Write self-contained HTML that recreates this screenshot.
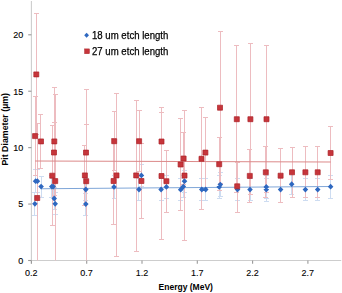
<!DOCTYPE html>
<html><head><meta charset="utf-8"><style>
html,body{margin:0;padding:0;background:#fff;}
body{width:342px;height:293px;overflow:hidden;position:relative;font-family:"Liberation Sans",sans-serif;}
svg{position:absolute;left:0;top:0;}
.t{position:absolute;white-space:nowrap;color:#000;line-height:1;}
.yl{font-size:9px;text-align:right;width:20px;left:3.2px;-webkit-text-stroke:0.12px #000;}
.xl{font-size:9px;width:30px;text-align:center;-webkit-text-stroke:0.1px #000;}
.lg{font-size:10.5px;transform:scaleX(0.915);transform-origin:0 0;-webkit-text-stroke:0.25px #000;}
.ttl{font-size:8.5px;font-weight:bold;}
</style></head><body>
<svg width="342" height="293" viewBox="0 0 342 293">
<defs><filter id="bl" x="0" y="0" width="1" height="1"><feGaussianBlur stdDeviation="0.35"/></filter></defs>
<g filter="url(#bl)">
<line x1="31.4" y1="1.0" x2="31.4" y2="263.8" stroke="#cdcdcd" stroke-width="1.1"/>
<line x1="28.2" y1="260.5" x2="341.2" y2="260.5" stroke="#cdcdcd" stroke-width="1.1"/>
<line x1="28.2" y1="204.07" x2="31.4" y2="204.07" stroke="#999999" stroke-width="1.1"/>
<line x1="28.2" y1="147.65" x2="31.4" y2="147.65" stroke="#999999" stroke-width="1.1"/>
<line x1="28.2" y1="91.22" x2="31.4" y2="91.22" stroke="#999999" stroke-width="1.1"/>
<line x1="28.2" y1="34.8" x2="31.4" y2="34.8" stroke="#999999" stroke-width="1.1"/>
<line x1="28.2" y1="260.5" x2="31.4" y2="260.5" stroke="#999999" stroke-width="1.1"/>
<line x1="31.4" y1="260.5" x2="31.4" y2="263.8" stroke="#999999" stroke-width="1.1"/>
<line x1="86.7" y1="260.5" x2="86.7" y2="263.8" stroke="#999999" stroke-width="1.1"/>
<line x1="142" y1="260.5" x2="142" y2="263.8" stroke="#999999" stroke-width="1.1"/>
<line x1="197.3" y1="260.5" x2="197.3" y2="263.8" stroke="#999999" stroke-width="1.1"/>
<line x1="252.6" y1="260.5" x2="252.6" y2="263.8" stroke="#999999" stroke-width="1.1"/>
<line x1="307.9" y1="260.5" x2="307.9" y2="263.8" stroke="#999999" stroke-width="1.1"/>
<path d="M35.5 169.5V192.5M33 169.5H38M33 192.5H38M37.5 169.5V192.5M35 169.5H40M35 192.5H40M34.5 192.5V215.5M32 192.5H37M32 215.5H37M41.5 176.5V197.5M39 176.5H44M39 197.5H44M51.5 175.5V197.5M49 175.5H54M49 197.5H54M53.5 175.5V197.5M51 175.5H56M51 197.5H56M54.5 187.5V209.5M52 187.5H57M52 209.5H57M55.5 192.5V214.5M53 192.5H58M53 214.5H58M85.5 178.5V200.5M83 178.5H88M83 200.5H88M85.5 193.5V215.5M83 193.5H88M83 215.5H88M114.5 175.5V198.5M112 175.5H117M112 198.5H117M141.5 164.5V186.5M139 164.5H144M139 186.5H144M138.5 178.5V200.5M136 178.5H141M136 200.5H141M161.5 178.5V200.5M159 178.5H164M159 200.5H164M166.5 175.5V198.5M164 175.5H169M164 198.5H169M184.5 170.5V192.5M182 170.5H187M182 192.5H187M180.5 178.5V200.5M178 178.5H183M178 200.5H183M183.5 175.5V197.5M181 175.5H186M181 197.5H186M201.5 178.5V200.5M199 178.5H204M199 200.5H204M205.5 178.5V200.5M203 178.5H208M203 200.5H208M220.5 172.5V196.5M218 172.5H223M218 196.5H223M219.5 175.5V198.5M217 175.5H222M217 198.5H222M237.5 178.5V200.5M235 178.5H240M235 200.5H240M250.5 178.5V200.5M248 178.5H253M248 200.5H253M266.5 175.5V198.5M264 175.5H269M264 198.5H269M266.5 178.5V201.5M264 178.5H269M264 201.5H269M280.5 176.5V202.5M278 176.5H283M278 202.5H283M291.5 173.5V194.5M289 173.5H294M289 194.5H294M305.5 178.5V200.5M303 178.5H308M303 200.5H308M317.5 178.5V200.5M315 178.5H320M315 200.5H320M330.5 175.5V198.5M328 175.5H333M328 198.5H333" stroke="#cddcf1" stroke-width="1" fill="none"/>
<path d="M36.5 13.5V135M34 13.5H39M34 134.5H39M35.5 96.5V175.6M33 96.5H38M33 175.5H38M37.5 123.5V260.5M35 123.5H40M40.5 114.5V168.5M38 114.5H43M38 168.5H43M54.5 87.5V195.1M52 87.5H57M52 195.5H57M54.5 122.5V182.8M52 122.5H57M52 182.5H57M52.5 125.5V225.6M50 125.5H55M50 225.5H55M55.5 94.5V260.5M53 94.5H58M86.5 124.5V180.6M84 124.5H89M84 180.5H89M84.5 145.5V205.3M82 145.5H87M82 205.5H87M86.5 89.5V260.5M84 89.5H89M114.5 111.5V170.7M112 111.5H117M112 170.5H117M116.5 93.5V257M114 93.5H119M114 256.5H119M113.5 138.5V224M111 138.5H116M111 224.5H116M139.5 110.5V171.6M137 110.5H142M137 171.5H142M136.5 100.5V251.8M134 100.5H139M134 251.5H139M141.5 143.5V218.7M139 143.5H144M139 218.5H144M161.5 107.5V175.3M159 107.5H164M159 175.5H164M161.5 112.5V239.7M159 112.5H164M159 239.5H164M166.5 150.5V212.2M164 150.5H169M164 212.5H169M183.5 132.5V184M181 132.5H186M181 184.5H186M180.5 118.5V210.5M178 118.5H183M178 210.5H183M184.5 110.5V240.4M182 110.5H187M182 240.5H187M201.5 107.5V209.9M199 107.5H204M199 209.5H204M205.5 117.5V187.7M203 117.5H208M203 187.5H208M220.5 31.5V183.7M218 31.5H223M218 183.5H223M219.5 137.5V190.9M217 137.5H222M217 190.5H222M236.5 45.5V192.9M234 45.5H239M234 192.5H239M237.5 162.5V212M235 162.5H240M235 212.5H240M250.5 43.5V194.7M248 43.5H253M248 194.5H253M249.5 149.5V202.6M247 149.5H252M247 202.5H252M266.5 45.5V192.9M264 45.5H269M264 192.5H269M265.5 146.5V197.7M263 146.5H268M263 197.5H268M280.5 148.5V202.9M278 148.5H283M278 202.5H283M292.5 147.5V197.5M290 147.5H295M290 197.5H295M305.5 146.5V197.7M303 146.5H308M303 197.5H308M317.5 146.5V197.7M315 146.5H320M315 197.5H320M330.5 126.5V179.8M328 126.5H333M328 179.5H333" stroke="#edbcc0" stroke-width="1" fill="none"/>
<line x1="35.1" y1="161.05" x2="330.8" y2="162.05" stroke="#dc8a8a" stroke-width="1.05"/>
<line x1="41" y1="188.85" x2="331" y2="186.45" stroke="#7fa6d8" stroke-width="1.05"/>
<path d="M35.6 178.3L38.4 181.2L35.6 184.1L32.8 181.2ZM37.4 178.3L40.2 181.2L37.4 184.1L34.6 181.2ZM34.9 200.9L37.7 203.8L34.9 206.7L32.1 203.8ZM41.1 183.7L43.9 186.6L41.1 189.5L38.3 186.6ZM51.8 183.7L54.6 186.6L51.8 189.5L49 186.6ZM53.2 183.7L56 186.6L53.2 189.5L50.4 186.6ZM54.2 195.6L57 198.5L54.2 201.4L51.4 198.5ZM55.2 200.9L58 203.8L55.2 206.7L52.4 203.8ZM85.8 186.6L88.6 189.5L85.8 192.4L83 189.5ZM85.8 201.2L88.6 204.1L85.8 207L83 204.1ZM114 184L116.8 186.9L114 189.8L111.2 186.9ZM141.4 172.5L144.2 175.4L141.4 178.3L138.6 175.4ZM139 186.6L141.8 189.5L139 192.4L136.2 189.5ZM161.1 186.6L163.9 189.5L161.1 192.4L158.3 189.5ZM166.4 184L169.2 186.9L166.4 189.8L163.6 186.9ZM184.5 178.3L187.3 181.2L184.5 184.1L181.7 181.2ZM180.7 186.8L183.5 189.7L180.7 192.6L177.9 189.7ZM183.3 183.7L186.1 186.6L183.3 189.5L180.5 186.6ZM201.8 186.6L204.6 189.5L201.8 192.4L199 189.5ZM205.7 186.6L208.5 189.5L205.7 192.4L202.9 189.5ZM220.3 181.7L223.1 184.6L220.3 187.5L217.5 184.6ZM219.2 184L222 186.9L219.2 189.8L216.4 186.9ZM237.5 186.7L240.3 189.6L237.5 192.5L234.7 189.6ZM250 186.7L252.8 189.6L250 192.5L247.2 189.6ZM266.3 184.1L269.1 187L266.3 189.9L263.5 187ZM266.3 186.7L269.1 189.6L266.3 192.5L263.5 189.6ZM280.6 186.7L283.4 189.6L280.6 192.5L277.8 189.6ZM291.7 181.3L294.5 184.2L291.7 187.1L288.9 184.2ZM305.4 186.7L308.2 189.6L305.4 192.5L302.6 189.6ZM317.7 186.7L320.5 189.6L317.7 192.5L314.9 189.6ZM330.6 183.8L333.4 186.7L330.6 189.6L327.8 186.7Z" fill="#2e67c0"/>
<path d="M33.8 71.9h5v5h-5ZM32.6 133.6h5v5h-5ZM34.7 195.5h5v5h-5ZM38.5 138.9h5v5h-5ZM51.8 138.9h5v5h-5ZM51.5 150h5v5h-5ZM49.7 173.2h5v5h-5ZM52.7 178.6h5v5h-5ZM83.5 150.1h5v5h-5ZM82.4 172.9h5v5h-5ZM83.7 178.7h5v5h-5ZM111.7 138.7h5v5h-5ZM114 172.9h5v5h-5ZM111.1 178.5h5v5h-5ZM136.6 138.7h5v5h-5ZM133.7 172.9h5v5h-5ZM138.9 178.5h5v5h-5ZM159 139h5v5h-5ZM159 173.5h5v5h-5ZM163.9 178.7h5v5h-5ZM181.1 156h5v5h-5ZM178.1 162h5v5h-5ZM182 173.1h5v5h-5ZM199 156.3h5v5h-5ZM202.9 150.1h5v5h-5ZM217.5 105.2h5v5h-5ZM216.7 161.7h5v5h-5ZM234.3 116.7h5v5h-5ZM234.7 183.8h5v5h-5ZM247.9 116.7h5v5h-5ZM247.3 173.4h5v5h-5ZM264 116.7h5v5h-5ZM263.3 169.8h5v5h-5ZM278.1 173.2h5v5h-5ZM289.5 169.8h5v5h-5ZM302.9 169.8h5v5h-5ZM315.2 169.8h5v5h-5ZM328.1 150.5h5v5h-5Z" fill="#c6343a" stroke="#ac2228" stroke-width="0.7"/>
<path d="M86.6 32.8L89 35.3L86.6 37.8L84.2 35.3Z" fill="#2e67c0"/>
<rect x="84.6" y="48.9" width="4.8" height="4.8" fill="#c6343a" stroke="#ac2228" stroke-width="0.5"/>
</g>
</svg>
<div class="t yl" style="top:256.9px">0</div>
<div class="t yl" style="top:200.47px">5</div>
<div class="t yl" style="top:144.05px">10</div>
<div class="t yl" style="top:87.62px">15</div>
<div class="t yl" style="top:31.2px">20</div>
<div class="t xl" style="left:16.3px;top:268.7px">0.2</div>
<div class="t xl" style="left:71.6px;top:268.7px">0.7</div>
<div class="t xl" style="left:126.9px;top:268.7px">1.2</div>
<div class="t xl" style="left:182.2px;top:268.7px">1.7</div>
<div class="t xl" style="left:237.5px;top:268.7px">2.2</div>
<div class="t xl" style="left:292.8px;top:268.7px">2.7</div>
<div class="t lg" style="left:91.9px;top:30.1px">18 um etch length</div>
<div class="t lg" style="left:91.9px;top:45.8px">27 um etch length</div>
<div class="t ttl" style="left:158.6px;top:283.2px">Energy (MeV)</div>
<div class="t ttl" style="left:0;top:0;width:73px;text-align:center;transform:translate(5.4px,129.3px) rotate(-90deg) translate(-36.5px,-4.25px);transform-origin:0 0;font-size:8.8px">Pit Diameter (µm)</div>
</body></html>
